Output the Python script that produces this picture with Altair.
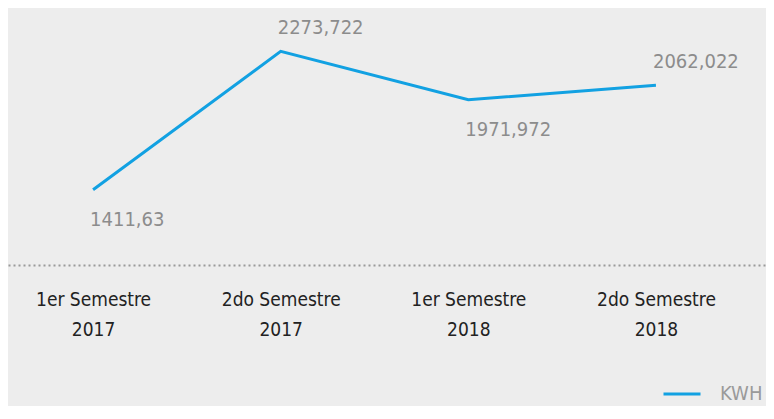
import altair as alt
import pandas as pd

periodos = ["1er Semestre 2017", "2do Semestre 2017", "1er Semestre 2018", "2do Semestre 2018"]
kwh = [1411.63, 2273.722, 1971.972, 2062.022]
etiquetas = ["1411,63", "2273,722", "1971,972", "2062,022"]
serie = "KWH"

df = pd.DataFrame({"periodo": periodos, "kwh": kwh, "etiqueta": etiquetas, "serie": [serie] * len(periodos)})

FONT = "Liberation Sans Narrow, DejaVu Sans Condensed, sans-serif"
BLUE = "#12a1e2"

x = alt.X(
    "periodo:N",
    sort=periodos,
    scale=alt.Scale(padding=0.52, align=0.436),
    axis=alt.Axis(
        title=None,
        labelAngle=0,
        ticks=False,
        grid=False,
        domain=True,
        domainColor="#9a9a9a",
        domainDash=[2, 3],
        domainWidth=2,
        labelFont=FONT,
        labelFontSize=19,
        labelColor="#222222",
        labelLineHeight=30,
        labelPadding=25,
        labelExpr="[substring(datum.label, 0, length(datum.label) - 5), substring(datum.label, length(datum.label) - 4)]",
    ),
)
y = alt.Y("kwh:Q", scale=alt.Scale(domain=[943, 2544], nice=False, zero=False), axis=None)

base = alt.Chart(df)

line = base.mark_line(strokeWidth=3).encode(
    x=x,
    y=y,
    color=alt.Color(
        "serie:N",
        scale=alt.Scale(range=[BLUE]),
        legend=alt.Legend(
            title=None,
            orient="none",
            legendX=654,
            legendY=366,
            symbolType="stroke",
            symbolSize=1369,
            symbolStrokeWidth=3,
            labelFont=FONT,
            labelFontSize=20,
            labelColor="#9a9a9a",
            labelOffset=18,
        ),
    ),
)

arriba = base.transform_filter("indexof(datum.periodo, '2do') == 0").mark_text(
    align="left", baseline="middle", dx=-3, dy=-23, font=FONT, fontSize=20, color="#8c8c8c"
).encode(x=x, y=y, text="etiqueta:N")

abajo = base.transform_filter("indexof(datum.periodo, '1er') == 0").mark_text(
    align="left", baseline="middle", dx=-3, dy=30, font=FONT, fontSize=20, color="#8c8c8c"
).encode(x=x, y=y, text="etiqueta:N")

chart = (
    alt.layer(line, arriba, abajo)
    .properties(
        width=758,
        height=257,
        padding={"left": 0, "top": 0, "right": 0, "bottom": 141},
        autosize=alt.AutoSizeParams(type="none"),
        background="#ededed",
    )
    .configure_view(stroke=None)
)

chart.save("out.html", embed_options={"renderer": "svg", "actions": False})
